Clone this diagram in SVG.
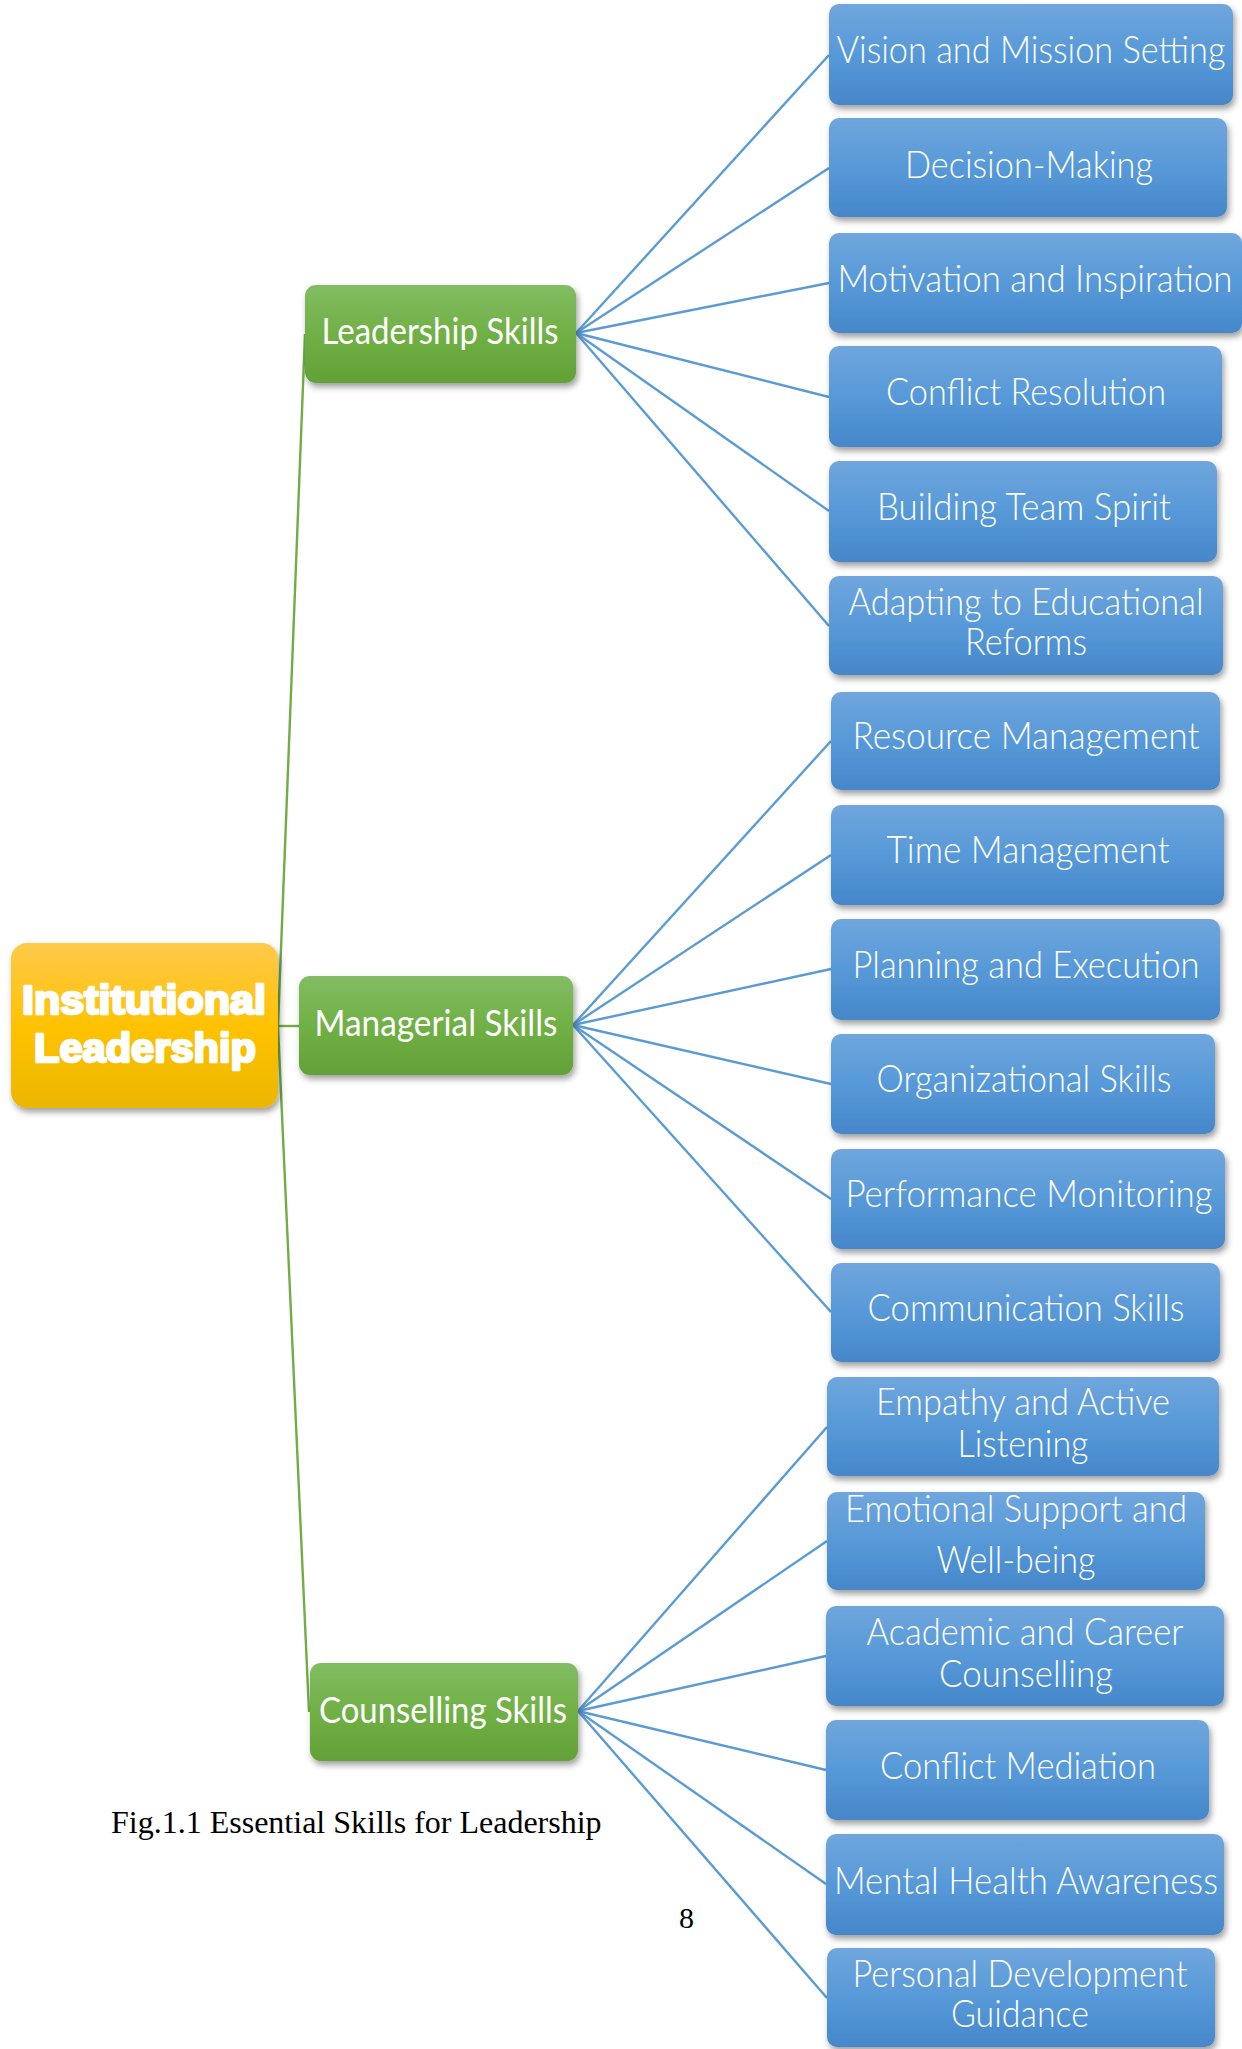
<svg xmlns="http://www.w3.org/2000/svg" width="1242" height="2049" viewBox="0 0 1242 2049">
  <defs>
    <linearGradient id="gBlue" x1="0" y1="0" x2="0" y2="1">
      <stop offset="0" stop-color="#70a6dd"/>
      <stop offset="0.5" stop-color="#5799d8"/>
      <stop offset="1" stop-color="#4587ca"/>
    </linearGradient>
    <linearGradient id="gGreen" x1="0" y1="0" x2="0" y2="1">
      <stop offset="0" stop-color="#83bc63"/>
      <stop offset="0.5" stop-color="#70b045"/>
      <stop offset="1" stop-color="#62a136"/>
    </linearGradient>
    <linearGradient id="gGold" x1="0" y1="0" x2="0" y2="1">
      <stop offset="0" stop-color="#ffc94b"/>
      <stop offset="0.5" stop-color="#ffc203"/>
      <stop offset="1" stop-color="#ebb700"/>
    </linearGradient>
    <filter id="shadow" x="-10%" y="-10%" width="125%" height="135%">
      <feDropShadow dx="2" dy="4" stdDeviation="3" flood-color="#000" flood-opacity="0.38"/>
    </filter>
  </defs>
  <style>
    .blue { fill: url(#gBlue); filter: url(#shadow); }
    .green { fill: url(#gGreen); filter: url(#shadow); }
    .gold { fill: url(#gGold); filter: url(#shadow); }
    .lt { font-family: Lato, "Open Sans", "DejaVu Sans", sans-serif; font-weight: 300; font-size: 37px; fill: #ffffff; text-anchor: middle; }
    .gt { font-family: Lato, "Open Sans", "DejaVu Sans", sans-serif; font-weight: 400; font-size: 36px; fill: #ffffff; text-anchor: middle; }
    .rt { font-family: "Liberation Sans", Arial, sans-serif; font-weight: 700; font-size: 40px; fill: #ffffff; stroke: #ffffff; stroke-width: 2.6; stroke-linejoin: round; text-anchor: middle; }
    .cap { font-family: "Liberation Serif", "Times New Roman", serif; font-size: 32px; fill: #000000; }
    .bl { stroke: #5b9bd5; stroke-width: 2.4; fill: none; }
    .gl { stroke: #70ad47; stroke-width: 2.4; fill: none; }
  </style>

  <rect width="1242" height="2049" fill="#ffffff"/>

  <!-- connectors -->
  <g id="connectors">
    <polyline class="gl" points="305,334 278,1026 309,1712"/>
    <line class="gl" x1="277" y1="1026" x2="300" y2="1026"/>
    <g>
      <line class="bl" x1="576" y1="333" x2="829" y2="55"/>
      <line class="bl" x1="576" y1="333" x2="829" y2="168"/>
      <line class="bl" x1="576" y1="333" x2="829" y2="283"/>
      <line class="bl" x1="576" y1="333" x2="829" y2="397"/>
      <line class="bl" x1="576" y1="333" x2="829" y2="511"/>
      <line class="bl" x1="576" y1="333" x2="829" y2="626"/>
    </g>
    <g>
      <line class="bl" x1="573" y1="1025" x2="831" y2="741"/>
      <line class="bl" x1="573" y1="1025" x2="831" y2="855"/>
      <line class="bl" x1="573" y1="1025" x2="831" y2="969"/>
      <line class="bl" x1="573" y1="1025" x2="831" y2="1084"/>
      <line class="bl" x1="573" y1="1025" x2="831" y2="1199"/>
      <line class="bl" x1="573" y1="1025" x2="831" y2="1312"/>
    </g>
    <g>
      <line class="bl" x1="578" y1="1711" x2="827" y2="1427"/>
      <line class="bl" x1="578" y1="1711" x2="827" y2="1541"/>
      <line class="bl" x1="578" y1="1711" x2="826" y2="1656"/>
      <line class="bl" x1="578" y1="1711" x2="826" y2="1770"/>
      <line class="bl" x1="578" y1="1711" x2="826" y2="1884"/>
      <line class="bl" x1="578" y1="1711" x2="827" y2="1998"/>
    </g>
  </g>

  <!-- root -->
  <g id="institutional-leadership">
    <rect class="gold" x="11" y="943" width="267" height="165" rx="16"/>
    <text class="rt" x="144" y="1014" textLength="244" lengthAdjust="spacingAndGlyphs">Institutional</text>
    <text class="rt" x="145" y="1062" textLength="222" lengthAdjust="spacingAndGlyphs">Leadership</text>
  </g>

  <!-- skill groups -->
  <g id="leadership-skills">
    <rect class="green" x="305" y="285" width="271" height="98" rx="11"/>
    <text class="gt" x="440" y="344" textLength="237" lengthAdjust="spacingAndGlyphs">Leadership Skills</text>
  </g>
  <g id="managerial-skills">
    <rect class="green" x="299" y="976" width="274" height="99" rx="11"/>
    <text class="gt" x="436" y="1036" textLength="243" lengthAdjust="spacingAndGlyphs">Managerial Skills</text>
  </g>
  <g id="counselling-skills">
    <rect class="green" x="310" y="1663" width="268" height="98" rx="11"/>
    <text class="gt" x="443" y="1723" textLength="248" lengthAdjust="spacingAndGlyphs">Counselling Skills</text>
  </g>

  <!-- leadership items -->
  <g id="vision-mission">
    <rect class="blue" x="829" y="4" width="404" height="101" rx="10"/>
    <text class="lt" x="1031" y="63" textLength="389" lengthAdjust="spacingAndGlyphs">Vision and Mission Setting</text>
  </g>
  <g id="decision-making">
    <rect class="blue" x="829" y="118" width="398" height="99" rx="10"/>
    <text class="lt" x="1029" y="178" textLength="248" lengthAdjust="spacingAndGlyphs">Decision-Making</text>
  </g>
  <g id="motivation">
    <rect class="blue" x="829" y="233" width="413" height="100" rx="10"/>
    <text class="lt" x="1035" y="292" textLength="395" lengthAdjust="spacingAndGlyphs">Motivation and Inspiration</text>
  </g>
  <g id="conflict-resolution">
    <rect class="blue" x="829" y="346" width="393" height="101" rx="10"/>
    <text class="lt" x="1026" y="405" textLength="280" lengthAdjust="spacingAndGlyphs">Conflict Resolution</text>
  </g>
  <g id="team-spirit">
    <rect class="blue" x="829" y="461" width="388" height="101" rx="10"/>
    <text class="lt" x="1024" y="520" textLength="294" lengthAdjust="spacingAndGlyphs">Building Team Spirit</text>
  </g>
  <g id="educational-reforms">
    <rect class="blue" x="829" y="576" width="394" height="99" rx="10"/>
    <text class="lt" x="1026" y="615" textLength="355" lengthAdjust="spacingAndGlyphs">Adapting to Educational</text>
    <text class="lt" x="1026" y="655" textLength="122" lengthAdjust="spacingAndGlyphs">Reforms</text>
  </g>

  <!-- managerial items -->
  <g id="resource-management">
    <rect class="blue" x="831" y="692" width="389" height="98" rx="10"/>
    <text class="lt" x="1026" y="749" textLength="347" lengthAdjust="spacingAndGlyphs">Resource Management</text>
  </g>
  <g id="time-management">
    <rect class="blue" x="831" y="805" width="393" height="100" rx="10"/>
    <text class="lt" x="1028" y="863" textLength="283" lengthAdjust="spacingAndGlyphs">Time Management</text>
  </g>
  <g id="planning-execution">
    <rect class="blue" x="831" y="919" width="389" height="101" rx="10"/>
    <text class="lt" x="1026" y="978" textLength="347" lengthAdjust="spacingAndGlyphs">Planning and Execution</text>
  </g>
  <g id="organizational-skills">
    <rect class="blue" x="831" y="1034" width="384" height="100" rx="10"/>
    <text class="lt" x="1024" y="1092" textLength="295" lengthAdjust="spacingAndGlyphs">Organizational Skills</text>
  </g>
  <g id="performance-monitoring">
    <rect class="blue" x="831" y="1149" width="394" height="100" rx="10"/>
    <text class="lt" x="1029" y="1207" textLength="367" lengthAdjust="spacingAndGlyphs">Performance Monitoring</text>
  </g>
  <g id="communication-skills">
    <rect class="blue" x="831" y="1263" width="389" height="99" rx="10"/>
    <text class="lt" x="1026" y="1321" textLength="317" lengthAdjust="spacingAndGlyphs">Communication Skills</text>
  </g>

  <!-- counselling items -->
  <g id="empathy-listening">
    <rect class="blue" x="827" y="1377" width="392" height="99" rx="10"/>
    <text class="lt" x="1023" y="1415" textLength="294" lengthAdjust="spacingAndGlyphs">Empathy and Active</text>
    <text class="lt" x="1023" y="1457" textLength="131" lengthAdjust="spacingAndGlyphs">Listening</text>
  </g>
  <g id="emotional-support">
    <rect class="blue" x="827" y="1492" width="378" height="98" rx="10"/>
    <text class="lt" x="1016" y="1522" textLength="342" lengthAdjust="spacingAndGlyphs">Emotional Support and</text>
    <text class="lt" x="1016" y="1573" textLength="159" lengthAdjust="spacingAndGlyphs">Well-being</text>
  </g>
  <g id="academic-career">
    <rect class="blue" x="826" y="1606" width="398" height="100" rx="10"/>
    <text class="lt" x="1025" y="1645" textLength="317" lengthAdjust="spacingAndGlyphs">Academic and Career</text>
    <text class="lt" x="1026" y="1687" textLength="174" lengthAdjust="spacingAndGlyphs">Counselling</text>
  </g>
  <g id="conflict-mediation">
    <rect class="blue" x="826" y="1720" width="383" height="100" rx="10"/>
    <text class="lt" x="1018" y="1779" textLength="276" lengthAdjust="spacingAndGlyphs">Conflict Mediation</text>
  </g>
  <g id="mental-health">
    <rect class="blue" x="826" y="1834" width="398" height="101" rx="10"/>
    <text class="lt" x="1026" y="1894" textLength="384" lengthAdjust="spacingAndGlyphs">Mental Health Awareness</text>
  </g>
  <g id="personal-development">
    <rect class="blue" x="827" y="1948" width="388" height="99" rx="10"/>
    <text class="lt" x="1020" y="1987" textLength="335" lengthAdjust="spacingAndGlyphs">Personal Development</text>
    <text class="lt" x="1020" y="2027" textLength="138" lengthAdjust="spacingAndGlyphs">Guidance</text>
  </g>

  <!-- caption and page number -->
  <text class="cap" x="111" y="1833">Fig.1.1 Essential Skills for Leadership</text>
  <text class="cap" x="679" y="1928" style="font-size:30px">8</text>
</svg>
